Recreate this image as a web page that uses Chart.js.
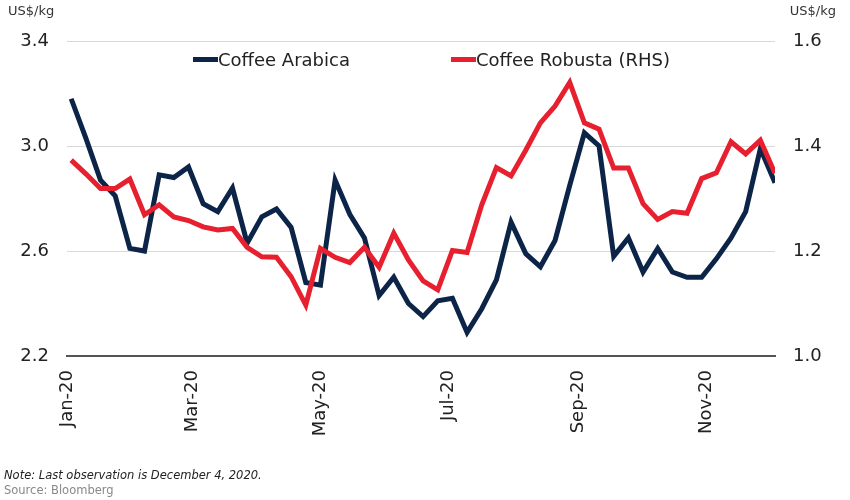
<!DOCTYPE html>
<html>
<head>
<meta charset="utf-8">
<script src="https://cdn.jsdelivr.net/npm/chart.js@4.4.0/dist/chart.umd.min.js"></script>
<style>
  body { margin: 0; background: #fff; font-family: 'DejaVu Sans', Verdana, sans-serif; }
  #wrap { position: relative; width: 850px; height: 500px; }
  .unit { position: absolute; top: 3px; font-size: 13px; color: #333; }
  #legend { position: absolute; left: 193px; top: 49px; display: flex; font-size: 18px; color: #222; }
  #legend .item { display: flex; align-items: center; margin-right: 101px; }
  #legend .swatch { width: 25px; height: 5px; }
  .note { position: absolute; left: 4px; font-size: 11.5px; }
</style>
</head>
<body>
<div id="wrap">
  <canvas id="chart"></canvas>
  <div class="unit" style="left:8px">US$/kg</div>
  <div class="unit" style="right:14px">US$/kg</div>
  <div id="legend"></div>
  <div class="note" style="top:468px;color:#222;font-style:italic">Note: Last observation is December 4, 2020.</div>
  <div class="note" style="top:483px;color:#888">Source: Bloomberg</div>
</div>
<script>
// semaines (vendredi) de janvier à décembre 2020
const dates = [
  '2020-01-03','2020-01-10','2020-01-17','2020-01-24','2020-01-31',
  '2020-02-07','2020-02-14','2020-02-21','2020-02-28',
  '2020-03-06','2020-03-13','2020-03-20','2020-03-27',
  '2020-04-03','2020-04-10','2020-04-17','2020-04-24',
  '2020-05-01','2020-05-08','2020-05-15','2020-05-22','2020-05-29',
  '2020-06-05','2020-06-12','2020-06-19','2020-06-26',
  '2020-07-03','2020-07-10','2020-07-17','2020-07-24','2020-07-31',
  '2020-08-07','2020-08-14','2020-08-21','2020-08-28',
  '2020-09-04','2020-09-11','2020-09-18','2020-09-25',
  '2020-10-02','2020-10-09','2020-10-16','2020-10-23','2020-10-30',
  '2020-11-06','2020-11-13','2020-11-20','2020-11-27',
  '2020-12-04'
];

const arabica = [
  3.18, 3.03, 2.87, 2.81, 2.61, 2.60, 2.89, 2.88, 2.92, 2.78,
  2.75, 2.84, 2.63, 2.73, 2.76, 2.69, 2.48, 2.47, 2.87, 2.74,
  2.65, 2.43, 2.50, 2.40, 2.35, 2.41, 2.42, 2.29, 2.38, 2.49,
  2.71, 2.59, 2.54, 2.64, 2.85, 3.05, 3.00, 2.58, 2.65, 2.52,
  2.61, 2.52, 2.50, 2.50, 2.57, 2.65, 2.75, 2.99, 2.86
];

const robusta = [
  1.373, 1.347, 1.319, 1.319, 1.337, 1.269, 1.288, 1.265, 1.258, 1.246,
  1.240, 1.243, 1.207, 1.189, 1.188, 1.151, 1.097, 1.205, 1.188, 1.178,
  1.207, 1.169, 1.234, 1.183, 1.143, 1.126, 1.201, 1.197, 1.288, 1.359,
  1.343, 1.392, 1.444, 1.476, 1.521, 1.444, 1.432, 1.358, 1.358, 1.290,
  1.260, 1.275, 1.272, 1.338, 1.349, 1.408, 1.385, 1.411, 1.348
];

const tickDates = ['2020-01-01','2020-03-01','2020-05-01','2020-07-01','2020-09-01','2020-11-01'];
const tickLabels = ['Jan-20','Mar-20','May-20','Jul-20','Sep-20','Nov-20'];

const start = Date.parse('2020-01-01');
function dia(str) {
  return (Date.parse(str) - start) / 86400000;
}

const tickDays = tickDates.map(dia);
const font = { family: "'DejaVu Sans', Verdana, sans-serif", size: 18 };

const ctx = document.getElementById('chart');
const chart = new Chart(ctx, {
  type: 'line',
  data: {
    datasets: [
      {
        label: 'Coffee Arabica',
        data: dates.map((d, i) => ({ x: dia(d), y: arabica[i] })),
        borderColor: '#0b2447',
        borderWidth: 5,
        pointRadius: 0,
        yAxisID: 'y',
        order: 1
      },
      {
        label: 'Coffee Robusta (RHS)',
        data: dates.map((d, i) => ({ x: dia(d), y: robusta[i] })),
        borderColor: '#e6202f',
        borderWidth: 5,
        pointRadius: 0,
        yAxisID: 'y1',
        order: 0
      }
    ]
  },
  options: {
    responsive: true,
    maintainAspectRatio: false,
    animation: false,
    layout: { padding: { top: 41, left: 0, right: 0, bottom: 0 } },
    plugins: { legend: { display: false }, tooltip: { enabled: false } },
    scales: {
      x: {
        type: 'linear',
        min: 0,
        max: dia(dates[dates.length - 1]),
        afterBuildTicks: scale => { scale.ticks = tickDays.map(v => ({ value: v })); },
        afterFit: scale => { scale.height = 144; },
        grid: { display: false, drawTicks: false },
        border: { display: true, color: '#555', width: 2 },
        ticks: {
          autoSkip: false,
          minRotation: 90,
          maxRotation: 90,
          padding: 14,
          color: '#222',
          font: font,
          callback: v => tickLabels[tickDays.indexOf(v)]
        }
      },
      y: {
        position: 'left',
        min: 2.2,
        max: 3.4,
        afterFit: scale => { scale.width = 67; },
        grid: {
          drawTicks: false,
          color: c => (c.tick && c.tick.value <= 2.2001 ? 'rgba(0,0,0,0)' : '#d9d9d9')
        },
        border: { display: false },
        ticks: { stepSize: 0.4, padding: 18, color: '#222', font: font, callback: v => v.toFixed(1) }
      },
      y1: {
        position: 'right',
        min: 1.0,
        max: 1.6,
        afterFit: scale => { scale.width = 75; },
        grid: { display: false, drawTicks: false },
        border: { display: false },
        ticks: { stepSize: 0.2, padding: 18, color: '#222', font: font, callback: v => v.toFixed(1) }
      }
    }
  }
});

// legenda em HTML a partir dos datasets
const legend = document.getElementById('legend');
chart.data.datasets.forEach(ds => {
  const item = document.createElement('div');
  item.className = 'item';
  item.innerHTML = `<span class="swatch" style="background:${ds.borderColor}"></span><span>${ds.label}</span>`;
  legend.appendChild(item);
});
</script>
</body>
</html>
